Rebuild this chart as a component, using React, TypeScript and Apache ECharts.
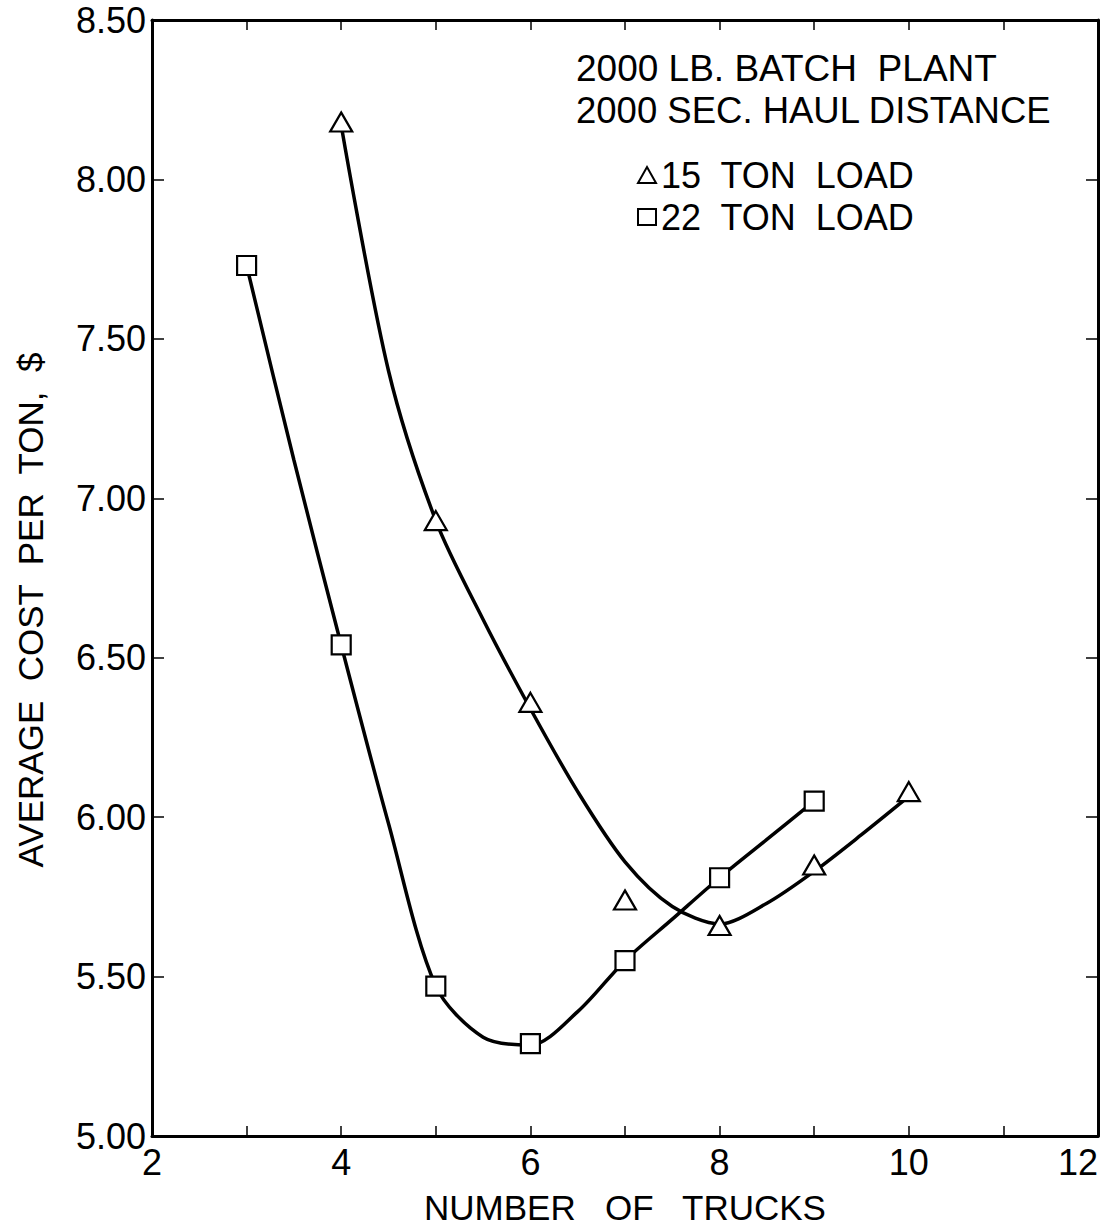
import React, { useEffect, useRef } from "react";
import * as echarts from "echarts";

const trucks15 = [4, 5, 6, 7, 8, 9, 10];
const cost15 = [8.18, 6.93, 6.36, 5.74, 5.66, 5.85, 6.08];
const trucks22 = [3, 4, 5, 6, 7, 8, 9];
const cost22 = [7.73, 6.54, 5.47, 5.29, 5.55, 5.81, 6.05];

// Hand-drawn fitted curves
const curveX15 = [4, 4.5, 5, 5.5, 6, 6.5, 7, 7.5, 8, 8.5, 9, 9.5, 10];
const curveY15 = [8.17, 7.4, 6.93, 6.62, 6.34, 6.08, 5.86, 5.72, 5.665, 5.73, 5.83, 5.945, 6.065];
const curveX22 = [3, 3.5, 4, 4.5, 5, 5.5, 6, 6.5, 7, 7.5, 8, 8.5, 9];
const curveY22 = [7.73, 7.12, 6.54, 5.98, 5.47, 5.31, 5.285, 5.39, 5.55, 5.68, 5.81, 5.93, 6.05];

const xTicks = { min: 2, max: 12, interval: 1 };
const yTicks = { min: 5, max: 8.5, interval: 0.5 };

const titleLines = ["2000 LB. BATCH  PLANT", "2000 SEC. HAUL DISTANCE"];
const xTitle = "NUMBER   OF   TRUCKS";
const yTitle = "AVERAGE  COST  PER  TON,  $";
const name15 = "15  TON  LOAD";
const name22 = "22  TON  LOAD";

const FONT = "Liberation Sans";

export default function App() {
  const ref = useRef<HTMLDivElement>(null);
  useEffect(() => {
    if (!ref.current) return;
    const chart = echarts.init(ref.current, null, { renderer: "svg" });
    const pair = (xs: number[], ys: number[]) => xs.map((x, i) => [x, ys[i]]);
    const axisLine = { show: true, lineStyle: { color: "#000", width: 3 } };
    const xBase = {
      type: "value",
      min: xTicks.min,
      max: xTicks.max,
      interval: xTicks.interval,
      axisLine,
      axisTick: { show: true, inside: true, length: 10, lineStyle: { color: "#000", width: 1.5 } },
      splitLine: { show: false },
    };
    const yBase = {
      type: "value",
      min: yTicks.min,
      max: yTicks.max,
      interval: yTicks.interval,
      axisLine,
      axisTick: { show: true, inside: true, length: 12, lineStyle: { color: "#000", width: 1.5 } },
      splitLine: { show: false },
    };
    const lineStyle = { color: "#000", width: 3.5 };
    const markStyle = { color: "#fff", borderColor: "#000", borderWidth: 2.2, opacity: 1 };
    chart.setOption({
      animation: false,
      backgroundColor: "#fff",
      textStyle: { fontFamily: FONT, color: "#000" },
      grid: {
        left: 152,
        right: 16,
        top: 20,
        bottom: 96,
        containLabel: false,
        outerBoundsMode: "none",
      },
      xAxis: [
        {
          ...xBase,
          position: "bottom",
          name: xTitle,
          nameLocation: "middle",
          nameGap: 54,
          nameTextStyle: { fontSize: 35, color: "#000", fontFamily: FONT },
          axisLabel: {
            fontSize: 36,
            color: "#000",
            margin: 8,
            fontFamily: FONT,
            alignMaxLabel: "right",
            formatter: (v: number) => (v % 2 === 0 ? String(v) : ""),
          },
        },
        { ...xBase, position: "top", axisLabel: { show: false } },
      ],
      yAxis: [
        {
          ...yBase,
          position: "left",
          axisLabel: {
            fontSize: 36,
            color: "#000",
            margin: 6,
            fontFamily: FONT,
            formatter: (v: number) => v.toFixed(2),
          },
        },
        { ...yBase, position: "right", axisLabel: { show: false } },
      ],
      legend: {
        orient: "vertical",
        left: 632,
        top: 152,
        itemWidth: 18,
        itemHeight: 16,
        itemGap: 6,
        data: [name15, name22],
        textStyle: { fontSize: 36, color: "#000", fontFamily: FONT },
      },
      graphic: [
        {
          type: "text",
          left: 576,
          top: 50,
          style: { text: titleLines[0], fontSize: 37, fontFamily: FONT, fill: "#000" },
        },
        {
          type: "text",
          left: 576,
          top: 92,
          style: { text: titleLines[1], fontSize: 36.5, fontFamily: FONT, fill: "#000" },
        },
        {
          type: "text",
          x: 30,
          y: 610,
          rotation: Math.PI / 2,
          style: {
            text: yTitle,
            fontSize: 35,
            fontFamily: FONT,
            fill: "#000",
            align: "center",
            verticalAlign: "middle",
          },
        },
      ],
      series: [
        {
          type: "line",
          data: pair(curveX15, curveY15),
          smooth: 0.3,
          symbol: "none",
          lineStyle,
          z: 2,
          silent: true,
        },
        {
          type: "line",
          data: pair(curveX22, curveY22),
          smooth: 0.3,
          symbol: "none",
          lineStyle,
          z: 2,
          silent: true,
        },
        {
          name: name15,
          type: "scatter",
          data: pair(trucks15, cost15),
          symbol: "triangle",
          symbolSize: [22, 19],
          itemStyle: markStyle,
          z: 5,
        },
        {
          name: name22,
          type: "scatter",
          data: pair(trucks22, cost22),
          symbol: "rect",
          symbolSize: 19,
          itemStyle: markStyle,
          z: 5,
        },
      ],
    });
    return () => chart.dispose();
  }, []);
  return (
    <div
      ref={ref}
      style={{ position: "fixed", left: 0, top: 0, width: 1114, height: 1232, background: "#fff" }}
    />
  );
}
